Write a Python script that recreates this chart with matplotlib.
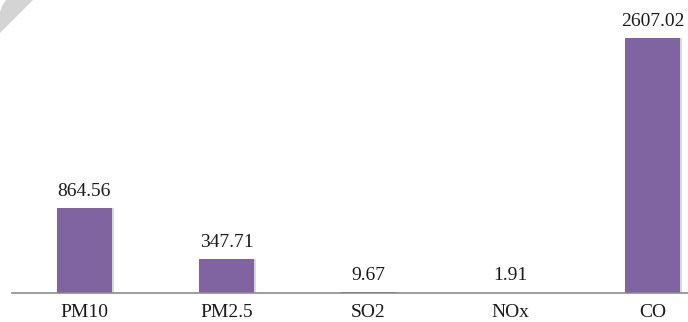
import matplotlib.pyplot as plt
from matplotlib.patches import Polygon

# emissions by pollutant
pollutants = ['PM10', 'PM2.5', 'SO2', 'NOx', 'CO']
emissions = [864.56, 347.71, 9.67, 1.91, 2607.02]
labels = ['864.56', '347.71', '9.67', '1.91', '2607.02']

plt.rcParams['font.family'] = ['Liberation Serif', 'DejaVu Serif']

fig = plt.figure(figsize=(6.88, 3.22), dpi=100)
ax = fig.add_axes([12/688, 29/322, 676/688, 293/322])

x = list(range(len(pollutants)))
# soft shadow behind bars
ax.bar([i + 0.012 for i in x], emissions, width=0.387, color='#d9d9d9', zorder=1)
bars = ax.bar(x, emissions, width=0.387, color='#8064A2', zorder=2)

for b, txt in zip(bars, labels):
    ax.annotate(txt, (b.get_x() + b.get_width()/2, b.get_height()),
                xytext=(0, 6), textcoords='offset points',
                ha='center', va='bottom', fontsize=14, color='#1a1a1a')

ax.set_xlim(-0.51, 4.25)
ax.set_ylim(0, 2995)
ax.set_xticks(x)
ax.set_xticklabels(pollutants, fontsize=14, color='#1a1a1a')
ax.tick_params(axis='x', length=0, pad=8)
ax.set_yticks([])
for s in ['top', 'right', 'left']:
    ax.spines[s].set_visible(False)
ax.spines['bottom'].set_color('#8c8c8c')
ax.spines['bottom'].set_linewidth(1.2)

# grey mark in the upper-left corner
H = 322
corner = Polygon([(6, H), (33, H), (0, H - 33), (0, H - 12), (2, H - 6)],
                 closed=True, transform=None, facecolor='#d4d4d4', edgecolor='none')
fig.patches.append(corner)

fig.savefig('out.png', dpi=100)
